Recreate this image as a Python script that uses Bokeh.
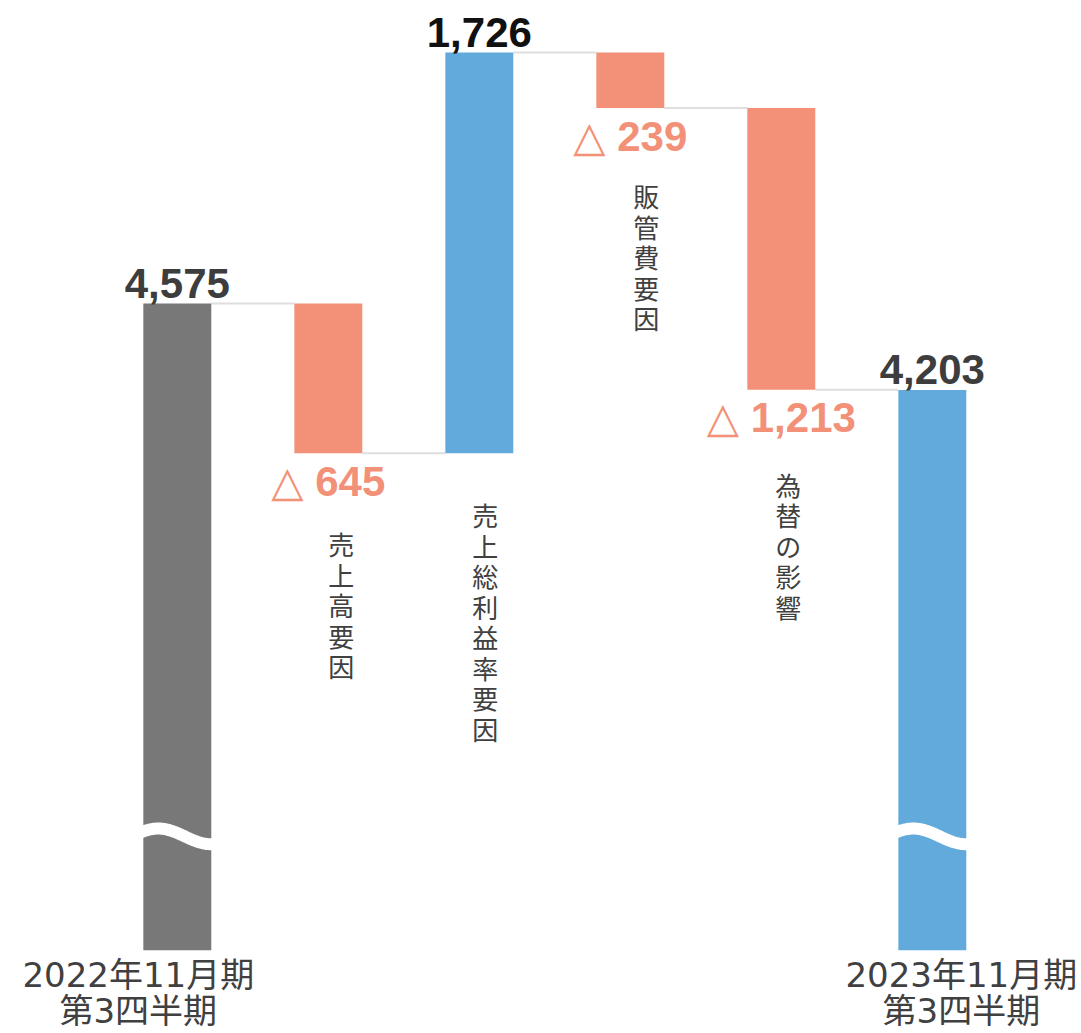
import numpy as np
from bokeh.plotting import figure
from bokeh.models import Range1d
from bokeh.core.properties import value
from bokeh.embed import file_html
from bokeh.resources import INLINE

# ---- data ----
categories = ["2022年11月期\n第3四半期", "売上高要因", "売上総利益率要因",
              "販管費要因", "為替の影響", "2023年11月期\n第3四半期"]
amounts = [4575, -645, 1726, -239, -1213, 4203]
kinds = ["total", "delta", "delta", "delta", "delta", "total"]
amount_labels = ["4,575", "△ 645", "1,726", "△ 239", "△ 1,213", "4,203"]

# ---- layout / style ----
W, H = 1081, 1033
axis_base = 1790      # visible start of the broken value axis
break_level = 2280    # where the axis break is drawn
x_start, x_end = -1.1709, 5.988
y_start, y_end = 1431, 5880
upx = (x_end - x_start) / W
upy = (y_end - y_start) / H
bar_w = 0.45

GRAY = "#787878"
SALMON = "#F29178"
BLUE = "#62AADB"

mid_dx = [0, 13, 6, 16, 7, 0]        # px shift of vertical labels
mid_dy = [0, 72, 43, 69, 76, 0]      # px gap below bar bottom
bottom_dx = [-39, 0, 0, 0, 0, 29]    # px shift of bottom labels

# ---- waterfall geometry ----
idx = list(range(len(amounts)))
bottoms, tops, colors, levels = [], [], [], []
running = 0
for i, (a, k) in enumerate(zip(amounts, kinds)):
    if k == "total":
        bottoms.append(axis_base)
        tops.append(a)
        colors.append(GRAY if i == 0 else BLUE)
        running = a
    else:
        new = running + a
        bottoms.append(min(running, new))
        tops.append(max(running, new))
        colors.append(BLUE if a > 0 else SALMON)
        running = new
    levels.append(running)

p = figure(width=W, height=H, output_backend="svg", toolbar_location=None,
           x_range=Range1d(x_start, x_end), y_range=Range1d(y_start, y_end),
           min_border=0, outline_line_color=None)
p.axis.visible = False
p.grid.visible = False
p.background_fill_color = "white"
p.border_fill_color = "white"

# connectors
cx0 = [i + bar_w / 2 for i in idx[:-1]]
cx1 = [i + 1 - bar_w / 2 for i in idx[:-1]]
p.segment(x0=cx0, y0=levels[:-1], x1=cx1, y1=levels[:-1],
          line_color="#dedede", line_width=2)

# bars
p.vbar(x=idx, width=bar_w, bottom=bottoms, top=tops,
       fill_color=colors, line_color=None)

# axis-break waves on the total bars
t = np.linspace(-0.06, 1.06, 80)
amp = 7.85 * upy
wx, wy = [], []
for i, k in zip(idx, kinds):
    if k == "total":
        wx.append(list(i - bar_w / 2 + bar_w * t))
        wy.append(list(break_level + amp * np.cos(np.pi * (t - 0.22) / 0.78)))
p.multi_line(xs=wx, ys=wy, line_color="white", line_width=12)

# value labels
num_font = value("Liberation Sans, DejaVu Sans")
vx, vy, vt, vc = [], [], [], []
nx, ny, nt = [], [], []
for i, (a, k) in enumerate(zip(amounts, kinds)):
    if k == "total" or a > 0:
        vx.append(i)
        vy.append(tops[i] + 20 * upy)
        vt.append(amount_labels[i])
        vc.append("#111111" if k == "delta" else "#3d3d3d")
    else:
        nx.append(i)
        ny.append(bottoms[i] - 28 * upy)
        nt.append(amount_labels[i])
p.text(x=vx, y=vy, text=vt, text_color=vc, text_font=num_font,
       text_font_size="42px", text_font_style="bold",
       text_align="center", text_baseline="alphabetic")
p.text(x=nx, y=ny, text=nt, text_color=SALMON, text_font=num_font,
       text_font_size="42px", text_font_style="bold",
       text_align="center", text_baseline="alphabetic")

# vertical category labels
cjk = value("Noto Sans CJK JP")
mx, my, mt = [], [], []
for i, k in enumerate(kinds):
    if k == "delta":
        mx.append(i + mid_dx[i] * upx)
        my.append(bottoms[i] - mid_dy[i] * upy)
        mt.append("\n".join(categories[i]))
p.text(x=mx, y=my, text=mt, text_color="#404040", text_font=cjk,
       text_font_size="26px", text_line_height=0.825,
       text_align="center", text_baseline="top")

# bottom category labels
bx, by, bt = [], [], []
for i, k in enumerate(kinds):
    if k == "total":
        bx.append(i + bottom_dx[i] * upx)
        by.append(axis_base - 5 * upy)
        bt.append(categories[i])
p.text(x=bx, y=by, text=bt, text_color="#404040",
       text_font=value("DejaVu Sans, Noto Sans CJK JP"),
       text_font_size="34px", text_line_height=0.9,
       text_align="center", text_baseline="top")

open("out.html", "w").write(file_html(p, INLINE))
